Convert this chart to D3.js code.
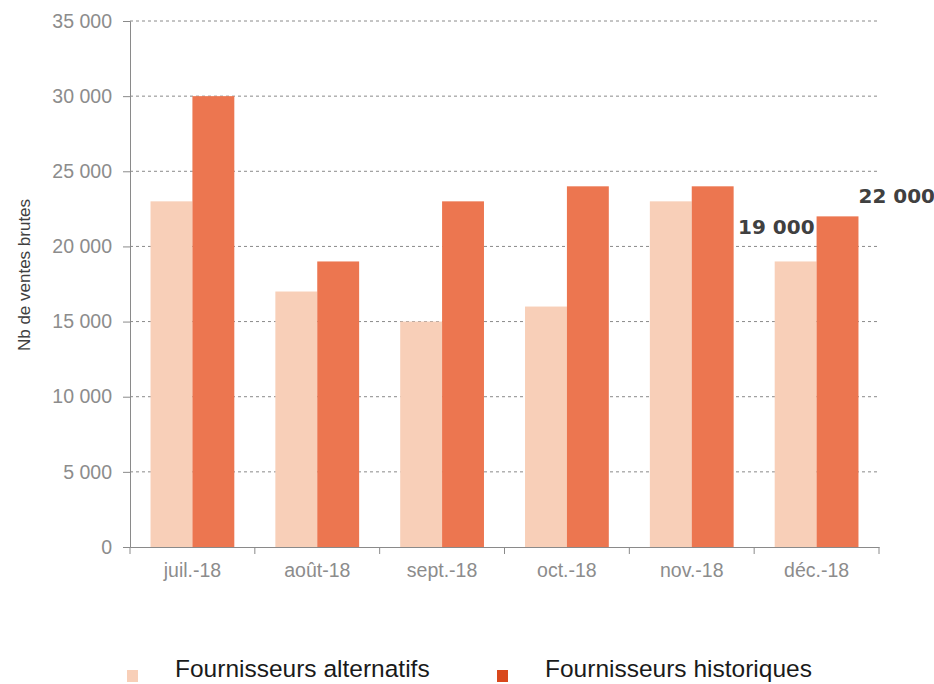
<!DOCTYPE html>
<html lang="fr">
<head>
  <meta charset="UTF-8" />
  <title>Ventes brutes</title>
  <script src="https://d3js.org/d3.v7.min.js"></script>
  <style>
    body { margin: 0; background: #fff; font-family: 'Liberation Sans', Arial, sans-serif; }
    svg text { font-family: 'Liberation Sans', Arial, sans-serif; }
  </style>
</head>
<body>
  <svg id="chart" width="934" height="684"></svg>
  <script>
    const months = ["juil.-18", "août-18", "sept.-18", "oct.-18", "nov.-18", "déc.-18"];
    const alternatifs = [23000, 17000, 15000, 16000, 23000, 19000];
    const historiques = [30000, 19000, 23000, 24000, 24000, 22000];
    const seriesNames = ["Fournisseurs alternatifs", "Fournisseurs historiques"];
    const yTicks = [0, 5000, 10000, 15000, 20000, 25000, 30000, 35000];

    const svg = d3.select("#chart");
    const margin = { top: 21, right: 55, bottom: 137, left: 130 };
    const width = 934 - margin.left - margin.right;
    const height = 684 - margin.top - margin.bottom;
    const g = svg.append("g").attr("transform", `translate(${margin.left},${margin.top})`);

    const fmt = v => d3.format(",")(v).replace(/,/g, " ");

    const x = d3.scaleBand().domain(months).range([0, width]).padding(0);
    const x1 = d3.scaleBand().domain(seriesNames).range([0, x.bandwidth()]).paddingOuter(0.49).paddingInner(0);
    const y = d3.scaleLinear().domain([0, 35000]).range([height, 0]);

    const colors = { "Fournisseurs alternatifs": "#f8cfb8", "Fournisseurs historiques": "#ec7650" };
    const legendColors = { "Fournisseurs alternatifs": "#f8cfb8", "Fournisseurs historiques": "#d9481c" };

    // grid
    g.append("g")
      .selectAll("line")
      .data(yTicks.filter(d => d > 0))
      .join("line")
      .attr("x1", 0).attr("x2", width)
      .attr("y1", d => y(d)).attr("y2", d => y(d))
      .attr("stroke", "#8a8a8a")
      .attr("stroke-width", 1)
      .attr("stroke-dasharray", "3,3");

    const data = months.map((m, i) => ({ month: m, values: [
      { key: seriesNames[0], value: alternatifs[i] },
      { key: seriesNames[1], value: historiques[i] }
    ]}));

    g.append("g")
      .selectAll("g")
      .data(data)
      .join("g")
      .attr("transform", d => `translate(${x(d.month)},0)`)
      .selectAll("rect")
      .data(d => d.values)
      .join("rect")
      .attr("x", d => x1(d.key))
      .attr("width", x1.bandwidth())
      .attr("y", d => y(d.value))
      .attr("height", d => y(0) - y(d.value))
      .attr("fill", d => colors[d.key]);

    // y axis
    const yAxis = g.append("g")
      .call(d3.axisLeft(y).tickValues(yTicks).tickFormat(fmt).tickSize(7).tickPadding(11));
    yAxis.selectAll("path, line").attr("stroke", "#8a8a8a");
    yAxis.selectAll("text").attr("fill", "#8c8c8c").style("font-size", "19.5px");

    // x axis
    const xAxis = g.append("g")
      .attr("transform", `translate(0,${height})`)
      .call(d3.axisBottom(x).tickSize(0).tickPadding(16));
    xAxis.select(".domain").attr("stroke", "#8a8a8a");
    xAxis.selectAll("text").attr("fill", "#8c8c8c").style("font-size", "19.5px");
    xAxis.selectAll(".sep")
      .data(d3.range(months.length + 1))
      .join("line")
      .attr("class", "sep")
      .attr("x1", i => i * x.bandwidth()).attr("x2", i => i * x.bandwidth())
      .attr("y1", 0).attr("y2", 7)
      .attr("stroke", "#8a8a8a");

    // annotations on last month
    const last = data[data.length - 1];
    g.append("text")
      .attr("x", x(last.month) + x1(seriesNames[1]) - 2)
      .attr("y", y(last.values[0].value) - 27)
      .attr("text-anchor", "end")
      .attr("fill", "#404040")
      .style("font-family", "'DejaVu Sans', sans-serif")
      .style("font-size", "20px")
      .style("font-weight", "bold")
      .text(fmt(last.values[0].value));
    g.append("text")
      .attr("x", x(last.month) + x1(seriesNames[1]) + x1.bandwidth())
      .attr("y", y(last.values[1].value) - 13)
      .attr("text-anchor", "start")
      .attr("fill", "#404040")
      .style("font-family", "'DejaVu Sans', sans-serif")
      .style("font-size", "20px")
      .style("font-weight", "bold")
      .text(fmt(last.values[1].value));

    // y title
    svg.append("text")
      .attr("transform", "translate(30,275) rotate(-90)")
      .attr("text-anchor", "middle")
      .attr("fill", "#404040")
      .style("font-size", "17px")
      .text("Nb de ventes brutes");

    // legend
    const legend = svg.append("g").attr("transform", "translate(0,677)");
    const legendX = [127, 497];
    seriesNames.forEach((s, i) => {
      legend.append("rect")
        .attr("x", legendX[i]).attr("y", -7)
        .attr("width", 11).attr("height", 12)
        .attr("fill", legendColors[s]);
      legend.append("text")
        .attr("x", legendX[i] + 48).attr("y", 0)
        .attr("fill", "#1a1a1a")
        .style("font-size", "24.5px")
        .text(s);
    });
  </script>
</body>
</html>
